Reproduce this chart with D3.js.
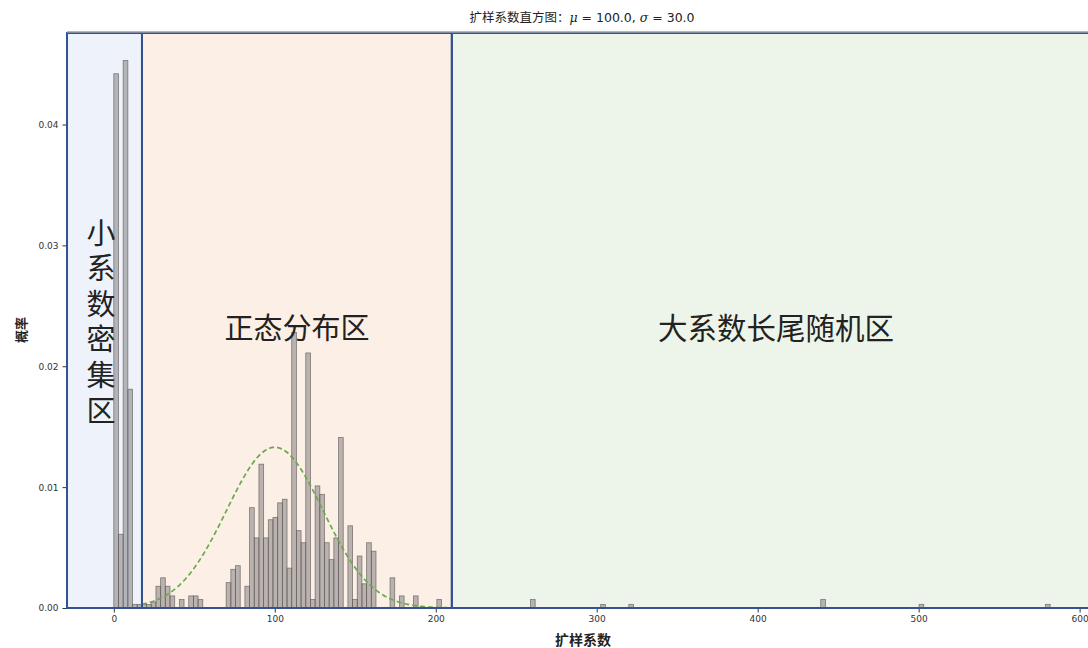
<!DOCTYPE html>
<html><head><meta charset="utf-8">
<script src="https://cdn.jsdelivr.net/npm/d3@7"></script>
<style>body{margin:0;background:#fff}svg{display:block}</style>
</head><body>
<svg id="c" width="1088" height="648"></svg>
<script>
// ---- data ----
const binWidth = 2.9085;
const binStarts = [0, 2.91, 5.82, 8.73, 11.63, 14.54, 17.45, 20.36, 23.27, 26.18, 29.09, 31.99, 34.90, 40.72, 46.54, 49.44, 52.35,
  69.80, 72.71, 75.62, 81.44, 84.35, 87.26, 90.16, 93.07, 95.98, 98.89, 101.80, 104.71, 107.61, 110.52, 113.43, 116.34, 119.25,
  122.16, 125.07, 127.97, 130.88, 133.79, 136.70, 139.61, 145.43, 148.33, 151.24, 154.15, 157.06, 159.97, 171.60, 177.42, 186.14,
  200.69, 258.86, 302.48, 319.94, 439.18, 500.26, 578.79];
const density = [0.0442, 0.0061, 0.0453, 0.0181, 0.0003, 0.0003, 0.0003, 0.0003, 0.0005, 0.0018, 0.0025, 0.0018, 0.0010, 0.0007, 0.0010, 0.0010, 0.0007,
  0.0021, 0.0032, 0.0035, 0.0018, 0.0083, 0.0058, 0.0119, 0.0058, 0.0073, 0.0075, 0.0087, 0.0090, 0.0033, 0.0228, 0.0064, 0.0054, 0.0211,
  0.0007, 0.0101, 0.0094, 0.0054, 0.0040, 0.0058, 0.0141, 0.0068, 0.0007, 0.0043, 0.0020, 0.0054, 0.0047, 0.0025, 0.0010, 0.0010,
  0.0007, 0.0007, 0.0003, 0.0003, 0.0007, 0.0003, 0.0003];
const mu = 100.0, sigma = 30.0;
const regionBounds = [17.5, 210];
const regionLabels = ["小系数密集区", "正态分布区", "大系数长尾随机区"];
const xTicks = [0, 100, 200, 300, 400, 500, 600];
const yTicks = [0, 0.01, 0.02, 0.03, 0.04];
const titleText = "扩样系数直方图：";
const xLabel = "扩样系数", yLabel = "概率";

// ---- layout ----
const L = 67, R = 1097, T = 33, B = 608;
const xDom = [-29.08, 610.8];
const x = d3.scaleLinear().domain(xDom).range([L, R]);
const y = d3.scaleLinear().domain([0, 0.04757]).range([B, T]);
const svg = d3.select("#c");

// regions
const regions = [[xDom[0], regionBounds[0], "#eef2fb"], [regionBounds[0], regionBounds[1], "#fcefe6"], [regionBounds[1], xDom[1], "#edf5ea"]];
svg.append("g").selectAll("rect").data(regions).join("rect")
  .attr("x", d => x(d[0])).attr("y", T).attr("width", d => x(d[1]) - x(d[0])).attr("height", B - T)
  .attr("fill", d => d[2]);

// bars
const bars = binStarts.map((s, i) => ({s, v: density[i]}));
svg.append("g").selectAll("rect").data(bars).join("rect")
  .attr("x", d => x(d.s)).attr("width", d => x(d.s + binWidth) - x(d.s))
  .attr("y", d => y(d.v)).attr("height", d => y(0) - y(d.v))
  .attr("fill", "rgba(125,122,122,0.52)").attr("stroke", "rgba(95,88,88,0.75)").attr("stroke-width", 0.8);

// normal curve
const xs = d3.range(regionBounds[0], regionBounds[1] + 0.01, 1);
const pdf = v => Math.exp(-0.5 * ((v - mu) / sigma) ** 2) / (sigma * Math.sqrt(2 * Math.PI));
svg.append("path").datum(xs)
  .attr("d", d3.line().x(d => x(d)).y(d => y(pdf(d))))
  .attr("fill", "none").attr("stroke", "#6aa84f").attr("stroke-width", 1.7).attr("stroke-dasharray", "5,3");

// region borders
svg.append("g").selectAll("rect").data(regions).join("rect")
  .attr("x", d => x(d[0])).attr("y", T).attr("width", d => x(d[1]) - x(d[0])).attr("height", B - T)
  .attr("fill", "none").attr("stroke", "#33528f").attr("stroke-width", 2);
svg.append("line").attr("x1", L).attr("x2", R).attr("y1", T - 1).attr("y2", T - 1).attr("stroke", "#9aa0aa").attr("stroke-width", 1.5);

// axes
const xAxis = svg.append("g").attr("transform", `translate(0,${B + 1})`)
  .call(d3.axisBottom(x).tickValues(xTicks).tickSize(3.5).tickPadding(3).tickFormat(d3.format("d")));
const yAxis = svg.append("g").attr("transform", `translate(${L - 1},0)`)
  .call(d3.axisLeft(y).tickValues(yTicks).tickSize(3.5).tickPadding(4).tickFormat(d3.format(".2f")));
[xAxis, yAxis].forEach(a => {
  a.select(".domain").remove();
  a.selectAll("line").attr("stroke", "#333");
  a.selectAll("text").attr("font-family", "DejaVu Sans, sans-serif").attr("font-size", 9).attr("fill", "#333");
});

// labels
const cjk = "'Noto Sans CJK SC', sans-serif";
const title = svg.append("text").attr("x", 582).attr("y", 22).attr("text-anchor", "middle")
  .attr("font-family", cjk).attr("font-size", 12.5).attr("fill", "#222");
title.append("tspan").text(titleText);
title.append("tspan").attr("font-style", "italic").attr("font-family", "DejaVu Serif, serif").text("μ");
title.append("tspan").attr("font-family", "DejaVu Sans, sans-serif").text(" = 100.0,  ");
title.append("tspan").attr("font-style", "italic").attr("font-family", "DejaVu Serif, serif").text("σ");
title.append("tspan").attr("font-family", "DejaVu Sans, sans-serif").text(" = 30.0");

svg.append("text").attr("x", 583).attr("y", 645).attr("text-anchor", "middle")
  .attr("font-family", cjk).attr("font-size", 14).attr("font-weight", "bold").attr("fill", "#222").text(xLabel);
svg.append("text").attr("transform", "translate(26,330) rotate(-90)").attr("text-anchor", "middle")
  .attr("font-family", cjk).attr("font-size", 13).attr("font-weight", "bold").attr("fill", "#222").text(yLabel);

// region labels
svg.append("text").attr("x", 101).attr("y", 218)
  .attr("writing-mode", "vertical-rl").style("text-orientation", "upright")
  .attr("letter-spacing", 6.6)
  .attr("font-family", cjk).attr("font-size", 29).attr("fill", "#222").text(regionLabels[0]);
svg.append("text").attr("x", 297).attr("y", 326).attr("text-anchor", "middle").attr("dominant-baseline", "central")
  .attr("font-family", cjk).attr("font-size", 29).attr("fill", "#222").text(regionLabels[1]);
svg.append("text").attr("x", 776).attr("y", 326).attr("text-anchor", "middle").attr("dominant-baseline", "central")
  .attr("font-family", cjk).attr("font-size", 29.5).attr("fill", "#222").text(regionLabels[2]);
</script>
</body></html>
